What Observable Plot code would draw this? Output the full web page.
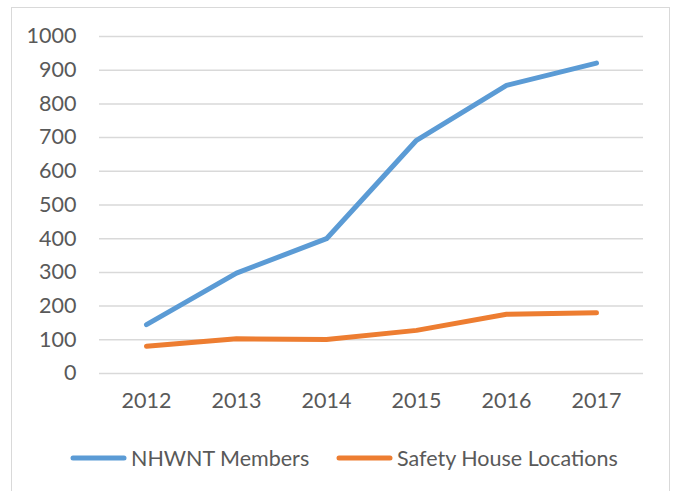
<!DOCTYPE html>
<html>
<head>
<meta charset="utf-8">
<script src="https://cdn.jsdelivr.net/npm/d3@7"></script>
<script src="https://cdn.jsdelivr.net/npm/@observablehq/plot@0.6"></script>
<style>
  html, body { margin: 0; padding: 0; background: #fff; }
  body { width: 675px; height: 491px; overflow: hidden; position: relative; font-family: Lato, "Open Sans", sans-serif; }
  #frame { position: absolute; left: 11px; top: 7px; width: 659px; height: 500px; border: 1px solid #D9D9D9; box-sizing: border-box; }
  #chart { position: absolute; left: 0; top: 0; }
  #legend { position: absolute; left: 0; top: 446px; width: 675px; height: 24px; font-size: 21.5px; color: #595959; }
  .item { position: absolute; top: 0; display: flex; align-items: center; height: 24px; white-space: nowrap; }
  .item svg { margin-right: 4px; }
</style>
</head>
<body>
<div id="frame"></div>
<div id="chart"></div>
<div id="legend"></div>
<script>
const years = ["2012", "2013", "2014", "2015", "2016", "2017"];
const members = [145, 298, 400, 692, 855, 921];
const safety = [81, 103, 101, 128, 176, 180];
const yTicks = [0, 100, 200, 300, 400, 500, 600, 700, 800, 900, 1000];
const seriesNames = ["NHWNT Members", "Safety House Locations"];
const colors = ["#5B9BD5", "#ED7D31"];

const data = [];
years.forEach((y, i) => {
  data.push({year: y, value: members[i], series: seriesNames[0]});
  data.push({year: y, value: safety[i], series: seriesNames[1]});
});

const chart = Plot.plot({
  width: 675,
  height: 430,
  marginTop: 36,
  marginBottom: 57,
  marginLeft: 99,
  marginRight: 32,
  style: {fontFamily: "Lato, 'Open Sans', sans-serif", fontSize: "21.5px", color: "#595959", background: "transparent"},
  x: {type: "point", domain: years, padding: 0.5},
  y: {domain: [0, 1000]},
  color: {domain: seriesNames, range: colors},
  marks: [
    Plot.ruleY(yTicks, {stroke: "#D9D9D9", strokeWidth: 1.5, strokeOpacity: 1}),
    Plot.axisY(yTicks, {tickSize: 0, tickPadding: 23, label: null, fill: "#595959", tickFormat: d => String(d)}),
    Plot.axisX({tickSize: 0, tickPadding: 19, label: null, fill: "#595959"}),
    Plot.line(data, {x: "year", y: "value", z: "series", stroke: "series", strokeWidth: 5, strokeLinecap: "round", strokeLinejoin: "round"})
  ]
});
document.getElementById("chart").appendChild(chart);

const legend = document.getElementById("legend");
const lefts = [70, 336];
seriesNames.forEach((name, i) => {
  const item = document.createElement("div");
  item.className = "item";
  item.style.left = lefts[i] + "px";
  const sw = d3.create("svg").attr("width", 57).attr("height", 10);
  sw.append("line").attr("x1", 3).attr("x2", 54).attr("y1", 5).attr("y2", 5)
    .attr("stroke", colors[i]).attr("stroke-width", 5).attr("stroke-linecap", "round");
  item.appendChild(sw.node());
  const span = document.createElement("span");
  span.textContent = name;
  item.appendChild(span);
  legend.appendChild(item);
});
</script>
</body>
</html>
